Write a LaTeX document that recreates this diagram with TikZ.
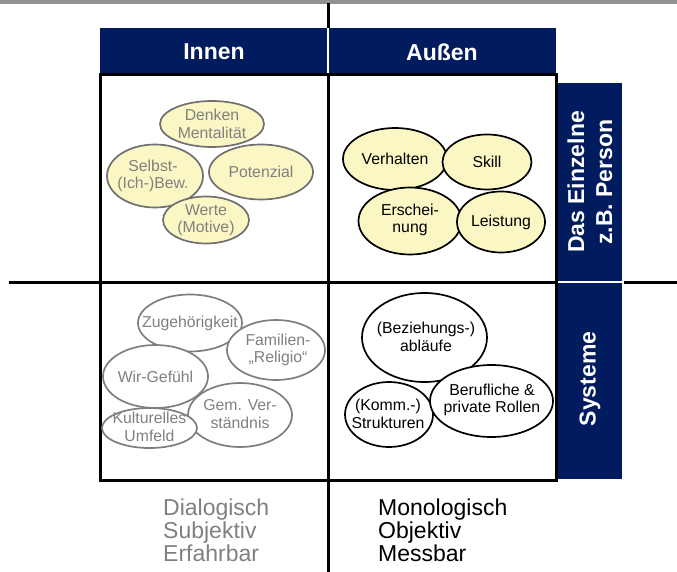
\documentclass[tikz,border=0pt]{standalone}
\usepackage{fontspec}
\setmainfont{Liberation Sans}
\usetikzlibrary{shapes.geometric}
\definecolor{navy}{RGB}{0,28,94}
\definecolor{pale}{RGB}{250,247,196}
\definecolor{softgray}{RGB}{128,128,128}
\definecolor{rimgray}{RGB}{112,112,112}
\definecolor{bargray}{RGB}{145,145,145}
\begin{document}
\begin{tikzpicture}[x=1pt,y=-1pt,
  bubble/.style={ellipse, inner sep=0pt, line width=1.7pt},
  btext/.style={align=center, inner sep=0pt, font=\fontsize{15.8}{17.5}\selectfont},
  innerbub/.style={bubble, draw=rimgray, fill=pale},
  outerbub/.style={bubble, draw=black, fill=pale},
  sysbub/.style={bubble, draw=black, fill=white},
  socbub/.style={bubble, draw=rimgray!90, fill=white},
  graytext/.style={btext, text=softgray},
  blacktext/.style={btext, text=black},
  headbox/.style={fill=navy, draw=none},
  headtext/.style={text=white, font=\fontsize{23}{28}\selectfont\bfseries, align=center, inner sep=0pt},
  grid/.style={line width=3pt, draw=black},
  foot/.style={font=\fontsize{23}{23}\selectfont, align=left, anchor=west, inner sep=0pt}
]
\useasboundingbox (0,0) rectangle (677,572);

% top bar
\fill[bargray] (0,0) rectangle (677,4.5);

% column headers
\fill[headbox] (100,28) rectangle (327,76);
\fill[headbox] (329,28) rectangle (556,76);
\node[headtext] (innen) at (214,52) {Innen};
\node[headtext] (aussen) at (442,52) {Außen};

% side headers
\fill[headbox] (557,83) rectangle (622,281.3);
\fill[headbox] (557,282.7) rectangle (622,479);
\node[headtext, rotate=90] (einzelne) at (590,182) {Das Einzelne\\z.B. Person};
\node[headtext, rotate=90] (systeme) at (590,379) {Systeme};

% grid lines
\draw[grid] (100,75) rectangle (556,480);
\draw[grid] (328,3) -- (328,28);
\draw[grid] (328,75) -- (328,572);
\draw[grid] (9,282) -- (556,282);
\draw[grid] (624,282) -- (677,282);

% upper left: the individual, inner view
\node[innerbub, minimum width=104pt, minimum height=46pt] (denken) at (212,124) {};
\node[innerbub, minimum width=104pt, minimum height=55pt] (potenzial) at (261,172) {};
\node[innerbub, minimum width=96pt, minimum height=63pt] (selbst) at (155,176) {};
\node[innerbub, minimum width=86pt, minimum height=47pt] (werte) at (206,220) {};
\node[graytext] (denken-t) at (denken) {Denken\\Mentalität};
\node[graytext] (potenzial-t) at (potenzial) {Potenzial};
\node[graytext] (selbst-t) at (153,176) {Selbst-\\(Ich-)Bew.};
\node[graytext] (werte-t) at (206,220) {Werte\\(Motive)};

% upper right: the individual, outer view
\node[outerbub, minimum width=104pt, minimum height=62pt] (verhalten) at (395,159) {};
\node[outerbub, minimum width=89pt, minimum height=55pt] (skill) at (487,162) {};
\node[outerbub, minimum width=103pt, minimum height=67pt] (erscheinung) at (410,221) {};
\node[outerbub, minimum width=88pt, minimum height=61pt] (leistung) at (501,222) {};
\node[blacktext] (verhalten-t) at (verhalten) {Verhalten};
\node[blacktext] (skill-t) at (skill) {Skill};
\node[blacktext] (erscheinung-t) at (410,220) {Erschei-\\nung};
\node[blacktext] (leistung-t) at (leistung) {Leistung};

% lower left: systems, inner view
\node[socbub, minimum width=104pt, minimum height=57pt] (zugeh) at (190,323) {};
\node[socbub, minimum width=98pt, minimum height=60pt] (familie) at (276,350) {};
\node[socbub, minimum width=105pt, minimum height=63pt] (wir) at (155.5,376.5) {};
\node[socbub, minimum width=104pt, minimum height=64pt] (gem) at (240,415) {};
\node[socbub, minimum width=95pt, minimum height=40pt] (kultur) at (149.5,428) {};
\node[graytext] (zugeh-t) at (zugeh) {Zugehörigkeit};
\node[graytext] (familie-t) at (278,350) {Familien-\\„Religio“};
\node[graytext] (wir-t) at (wir) {Wir-Gefühl};
\node[graytext] (gem-t) at (240,414) {Gem. Ver-\\ständnis};
\node[graytext] (kultur-t) at (149.5,427) {Kulturelles\\Umfeld};

% lower right: systems, outer view
\node[sysbub, minimum width=125pt, minimum height=89pt] (bez) at (424.5,337.5) {};
\node[sysbub, minimum width=88pt, minimum height=65pt] (strukt) at (389,414.5) {};
\node[sysbub, minimum width=123pt, minimum height=72pt] (rollen) at (491.5,401) {};
\node[blacktext] (bez-t) at (426,337) {(Beziehungs-)\\abläufe};
\node[blacktext] (strukt-t) at (388,414) {(Komm.-)\\Strukturen};
\node[blacktext] (rollen-t) at (492,400) {Berufliche \&\\private Rollen};

% footer
\node[foot, text=softgray] (links) at (163,530) {Dialogisch\\Subjektiv\\Erfahrbar};
\node[foot, text=black] (rechts) at (378,530) {Monologisch\\Objektiv\\Messbar};
\end{tikzpicture}
\end{document}
